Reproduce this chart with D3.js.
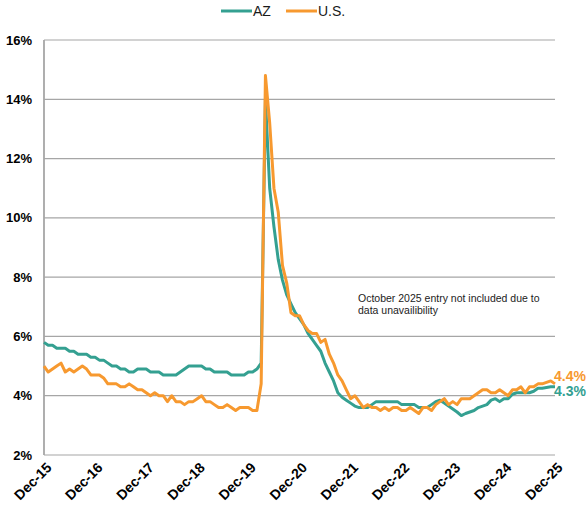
<!DOCTYPE html>
<html><head><meta charset="utf-8">
<script src="https://cdn.jsdelivr.net/npm/d3@7"></script>
<style>
html,body{margin:0;padding:0;background:#fff;}
svg{display:block;font-family:"Liberation Sans",Arial,sans-serif;}
</style></head>
<body><svg id="chart" width="587" height="508"></svg>
<script>
// ---- data ----
const seriesNames = ["AZ", "U.S."];
const tickLabels = ["Dec-15","Dec-16","Dec-17","Dec-18","Dec-19","Dec-20","Dec-21","Dec-22","Dec-23","Dec-24","Dec-25"];
const yTicks = [2,4,6,8,10,12,14,16];
// monthly, Dec-2015 .. Dec-2025 (Oct-2025 not available)
const azRate = [
  5.8,
  5.7,5.7,5.6,5.6,5.6,5.5,5.5,5.4,5.4,5.4,5.3,5.3,
  5.2,5.2,5.1,5.0,5.0,4.9,4.9,4.8,4.8,4.9,4.9,4.9,
  4.8,4.8,4.8,4.7,4.7,4.7,4.7,4.8,4.9,5.0,5.0,5.0,
  5.0,4.9,4.9,4.8,4.8,4.8,4.8,4.7,4.7,4.7,4.7,4.8,
  4.8,4.9,5.1,14.0,11.0,9.7,8.6,7.9,7.4,7.1,6.8,6.6,
  6.4,6.1,5.9,5.7,5.5,5.1,4.8,4.5,4.1,3.95,3.85,3.75,
  3.65,3.6,3.6,3.6,3.7,3.8,3.8,3.8,3.8,3.8,3.8,3.7,
  3.7,3.7,3.7,3.6,3.6,3.6,3.7,3.8,3.85,3.75,3.65,3.55,
  3.45,3.33,3.4,3.45,3.5,3.6,3.65,3.7,3.85,3.9,3.8,3.9,
  3.9,4.05,4.1,4.1,4.1,4.1,4.15,4.25,4.25,null,4.3,4.3
];
const usRate = [
  5.0,
  4.8,4.9,5.0,5.1,4.8,4.9,4.8,4.9,5.0,4.9,4.7,4.7,
  4.7,4.6,4.4,4.4,4.4,4.3,4.3,4.4,4.3,4.2,4.2,4.1,
  4.0,4.1,4.0,4.0,3.8,4.0,3.8,3.8,3.7,3.8,3.8,3.9,
  4.0,3.8,3.8,3.7,3.6,3.6,3.7,3.6,3.5,3.6,3.6,3.6,
  3.5,3.5,4.4,14.8,13.2,11.0,10.2,8.4,7.8,6.8,6.7,6.7,
  6.4,6.2,6.1,6.1,5.8,5.9,5.4,5.1,4.7,4.5,4.2,3.9,
  4.0,3.8,3.6,3.7,3.6,3.6,3.5,3.6,3.5,3.6,3.6,3.5,
  3.5,3.6,3.5,3.4,3.6,3.6,3.5,3.7,3.8,3.9,3.7,3.8,
  3.7,3.9,3.9,3.9,4.0,4.1,4.2,4.2,4.1,4.1,4.2,4.1,
  4.0,4.2,4.2,4.3,4.1,4.3,4.3,4.4,4.4,null,4.5,4.4
];
const endLabels = ["4.3%", "4.4%"];
const note = ["October 2025 entry not included due to", "data unavailibility"];

// ---- layout ----
const colors = {AZ: "#34a091", US: "#f7992f"};
const svg = d3.select("#chart");
const L = 44, R = 555, T = 40, B = 455;
const months = d3.range(azRate.length);
const x = d3.scaleLinear().domain([0, months.length - 1]).range([L, R]);
const y = d3.scaleLinear().domain([2, 16]).range([B, T]);

// gridlines
svg.append("g").selectAll("line").data(yTicks).join("line")
  .attr("x1", L).attr("x2", R)
  .attr("y1", d => y(d)).attr("y2", d => y(d))
  .attr("stroke", "#a6a6a6").attr("stroke-width", 1.2);

// y axis line
svg.append("line").attr("x1", L).attr("x2", L).attr("y1", T).attr("y2", B)
  .attr("stroke", "#a6a6a6").attr("stroke-width", 1.8);

// y labels
svg.append("g").selectAll("text").data(yTicks).join("text")
  .attr("x", 32).attr("y", d => y(d)).attr("dy", "0.35em")
  .attr("text-anchor", "end").attr("font-size", 13).attr("font-weight", "bold")
  .attr("fill", "#000").text(d => d + "%");

// x labels
svg.append("g").selectAll("text").data(tickLabels).join("text")
  .attr("transform", (d, i) => `translate(${x(i * 12) + 5},${B + 10}) rotate(-45)`)
  .attr("text-anchor", "end").attr("dy", "0.35em")
  .attr("font-size", 14).attr("font-weight", "bold").attr("fill", "#000")
  .text(d => d);

// lines
const line = d3.line().x(d => x(d[0])).y(d => y(d[1]));
function pts(arr){ return arr.map((v, i) => [i, v]).filter(d => d[1] != null); }
svg.append("path").datum(pts(azRate)).attr("d", line)
  .attr("fill", "none").attr("stroke", colors.AZ).attr("stroke-width", 3)
  .attr("stroke-linejoin", "round");
svg.append("path").datum(pts(usRate)).attr("d", line)
  .attr("fill", "none").attr("stroke", colors.US).attr("stroke-width", 3)
  .attr("stroke-linejoin", "round");

// end labels
svg.append("text").attr("x", 554).attr("y", 376).attr("dy", "0.35em")
  .attr("font-size", 14).attr("font-weight", "bold").attr("fill", colors.US).text(endLabels[1]);
svg.append("text").attr("x", 554).attr("y", 391).attr("dy", "0.35em")
  .attr("font-size", 14).attr("font-weight", "bold").attr("fill", colors.AZ).text(endLabels[0]);

// note
svg.append("g").selectAll("text").data(note).join("text")
  .attr("x", 358).attr("y", (d, i) => 298 + i * 12.5).attr("dy", "0.35em")
  .attr("font-size", 10.5).attr("fill", "#222").text(d => d);

// legend
const leg = [{name: seriesNames[0], c: colors.AZ, x: 221}, {name: seriesNames[1], c: colors.US, x: 286}];
const lg = svg.append("g").selectAll("g").data(leg).join("g");
lg.append("line").attr("x1", d => d.x).attr("x2", d => d.x + 31).attr("y1", 11).attr("y2", 11)
  .attr("stroke", d => d.c).attr("stroke-width", 3);
lg.append("text").attr("x", d => d.x + 32).attr("y", 11).attr("dy", "0.35em")
  .attr("font-size", 14).attr("fill", "#1a1a1a").text(d => d.name);
</script></body></html>
